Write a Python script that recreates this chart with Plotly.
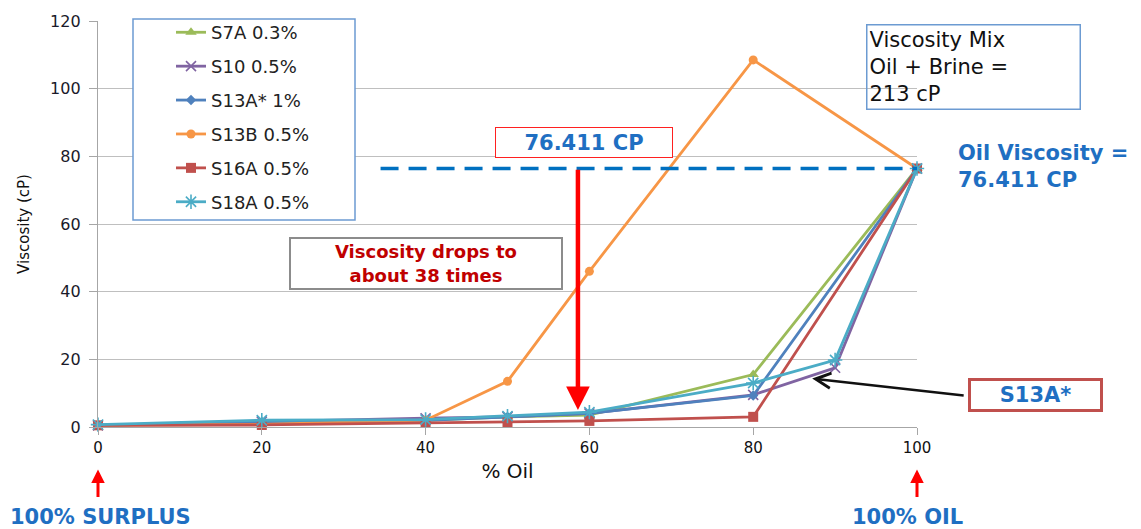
import plotly.graph_objects as go

# ---------------- data ----------------
x_oil = [0, 20, 40, 50, 60, 80, 90, 100]
s7a  = [0.5, 1.5, 2.0, 3.0, 3.5, 15.5, None, 76.411]
s10  = [0.5, 1.6, 2.6, 3.0, 4.0, 9.5, 17.5, 76.411]
s13a = [0.5, 1.5, 2.0, 3.0, 4.0, 9.3, None, 76.411]
s13b = [0.5, 0.8, 2.0, 13.5, 46.0, 108.5, None, 76.411]
s16a = [0.5, 0.6, 1.2, 1.4, 1.8, 3.0, None, 76.411]
s18a = [0.7, 2.0, 2.2, 3.2, 4.4, 13.0, 19.8, 76.411]

series_names = ["S7A 0.3%", "S10 0.5%", "S13A* 1%", "S13B 0.5%", "S16A 0.5%", "S18A 0.5%"]
series_values = [s7a, s10, s13a, s13b, s16a, s18a]
series_colors = ["#9BBB59", "#8064A2", "#4F81BD", "#F79646", "#C0504D", "#4BACC6"]
series_symbols = ["triangle-up", "x-thin-open", "diamond", "circle", "square", "asterisk-open"]
series_sizes = [10, 10, 8, 9, 10, 12]

oil_viscosity = 76.411
x_ticks = [0, 20, 40, 60, 80, 100]
y_ticks = [0, 20, 40, 60, 80, 100, 120]

FONT = "DejaVu Sans"
BLUE_TXT = "#1F6FC2"

W, H = 1141, 529
ML, MR, MT, MB = 98, 224, 17, 102
PW, PH = W - ML - MR, H - MT - MB


def px(xp):
    return (xp - ML) / PW


def py(yp):
    return (H - MB - yp) / PH


fig = go.Figure()
for name, vals, col, sym, sz in zip(series_names, series_values, series_colors,
                                    series_symbols, series_sizes):
    open_sym = sym.endswith("open")
    fig.add_trace(go.Scatter(
        x=x_oil, y=vals, name=name, mode="lines+markers", connectgaps=True,
        legendgroup=name, cliponaxis=False,
        line=dict(color=col, width=2.8),
        marker=dict(symbol=sym, size=sz, color=col,
                    line=dict(color=col, width=1.6 if open_sym else 0)),
    ))

shapes = [
    # legend frame
    dict(type="rect", xref="paper", yref="paper",
         x0=px(133), x1=px(355), y0=py(218), y1=py(15),
         line=dict(color="#6C9BD2", width=1.5), fillcolor="white", layer="above"),
    # oil viscosity dashed reference line
    dict(type="line", xref="x", yref="y", x0=34.5, x1=100, y0=oil_viscosity, y1=oil_viscosity,
         line=dict(color="#0070C0", width=3.5, dash="18px,10px"), layer="above"),
]

annotations = [
    dict(text="Viscosity Mix<br>Oil + Brine =<br>213 cP", xref="paper", yref="paper",
         x=px(866), y=py(20), xanchor="left", yanchor="top", align="left",
         showarrow=False, width=208, borderpad=2, bordercolor="#6C9BD2", borderwidth=1.5,
         font=dict(family=FONT, size=21, color="#111111")),
    dict(text="<b>Oil Viscosity =<br>76.411 CP</b>", xref="paper", yref="paper",
         x=px(956), y=py(136), xanchor="left", yanchor="top", align="left",
         showarrow=False, font=dict(family=FONT, size=21, color=BLUE_TXT)),
    dict(text="<b>76.411 CP</b>", xref="paper", yref="paper",
         x=px(584), y=py(140), xanchor="center", yanchor="middle",
         showarrow=False, width=172, height=25, borderpad=2, bordercolor="#FF2020",
         borderwidth=1, bgcolor="white",
         font=dict(family=FONT, size=21, color=BLUE_TXT)),
    dict(text="<b>Viscosity drops to<br>about 38 times</b>", xref="paper", yref="paper",
         x=px(426), y=py(261.5), xanchor="center", yanchor="middle",
         showarrow=False, width=268, height=47, borderpad=1, bordercolor="#8C8C8C",
         borderwidth=2, bgcolor="white",
         font=dict(family=FONT, size=18, color="#C00000")),
    dict(text="<b>S13A*</b>", xref="paper", yref="paper",
         x=px(1035.5), y=py(395), xanchor="center", yanchor="middle",
         showarrow=False, width=127, height=26, borderpad=1, bordercolor="#C0504D",
         borderwidth=3, bgcolor="white",
         font=dict(family=FONT, size=21, color=BLUE_TXT)),
    # red drop arrow
    dict(text="", xref="x", yref="y", axref="x", ayref="y",
         x=58.6, y=5.0, ax=58.6, ay=76.5, showarrow=True,
         arrowhead=2, arrowsize=1.05, arrowwidth=4.5, arrowcolor="#FF0000"),
    # black arrow to S13A*
    dict(text="", xref="x", yref="y", x=87.2, y=14.3, ax=153, ay=17, showarrow=True,
         arrowhead=5, arrowsize=1.2, arrowwidth=2.5, arrowcolor="#111111"),
    # bottom red arrows
    dict(text="", xref="x", yref="paper", x=0, y=py(470), ax=0, ay=29, showarrow=True,
         arrowhead=2, arrowsize=0.9, arrowwidth=3, arrowcolor="#FF0000"),
    dict(text="", xref="x", yref="paper", x=100, y=py(470), ax=0, ay=29, showarrow=True,
         arrowhead=2, arrowsize=0.9, arrowwidth=3, arrowcolor="#FF0000"),
    dict(text="<b>100% SURPLUS</b>", xref="paper", yref="paper",
         x=px(100), y=py(518), xanchor="center", yanchor="middle", showarrow=False,
         font=dict(family=FONT, size=21, color=BLUE_TXT)),
    dict(text="<b>100% OIL</b>", xref="paper", yref="paper",
         x=px(907), y=py(518), xanchor="center", yanchor="middle", showarrow=False,
         font=dict(family=FONT, size=21, color=BLUE_TXT)),
]

fig.update_layout(
    width=W, height=H,
    margin=dict(l=ML, r=MR, t=MT, b=MB, pad=0),
    paper_bgcolor="white", plot_bgcolor="white",
    font=dict(family=FONT, color="#111111"),
    showlegend=True,
    legend=dict(x=px(171), y=py(10), xanchor="left", yanchor="top",
                bgcolor="rgba(0,0,0,0)", borderwidth=0, tracegroupgap=7.5,
                font=dict(family=FONT, size=18, color="#222222"), traceorder="grouped"),
    shapes=shapes, annotations=annotations,
    xaxis=dict(range=[0, 100], tickvals=x_ticks, showgrid=False, zeroline=False,
               showline=True, linecolor="#A6A6A6", linewidth=1.3,
               ticks="outside", ticklen=7, tickcolor="#A6A6A6",
               tickfont=dict(family=FONT, size=15, color="#111111"),
               title=dict(text="% Oil", font=dict(family=FONT, size=20, color="#111111"),
                          standoff=7)),
    yaxis=dict(range=[0, 120], tickvals=y_ticks, showgrid=True, gridcolor="#BFBFBF",
               gridwidth=1.2, zeroline=False, showline=True, linecolor="#A6A6A6",
               linewidth=1.3, ticks="outside", ticklen=8, tickcolor="#A6A6A6",
               ticklabelstandoff=5,
               tickfont=dict(family=FONT, size=16, color="#1a1a2a"),
               title=dict(text="Viscosity (cP)", font=dict(family=FONT, size=15, color="#111111"),
                          standoff=16)),
)

fig.write_html("out.html")
